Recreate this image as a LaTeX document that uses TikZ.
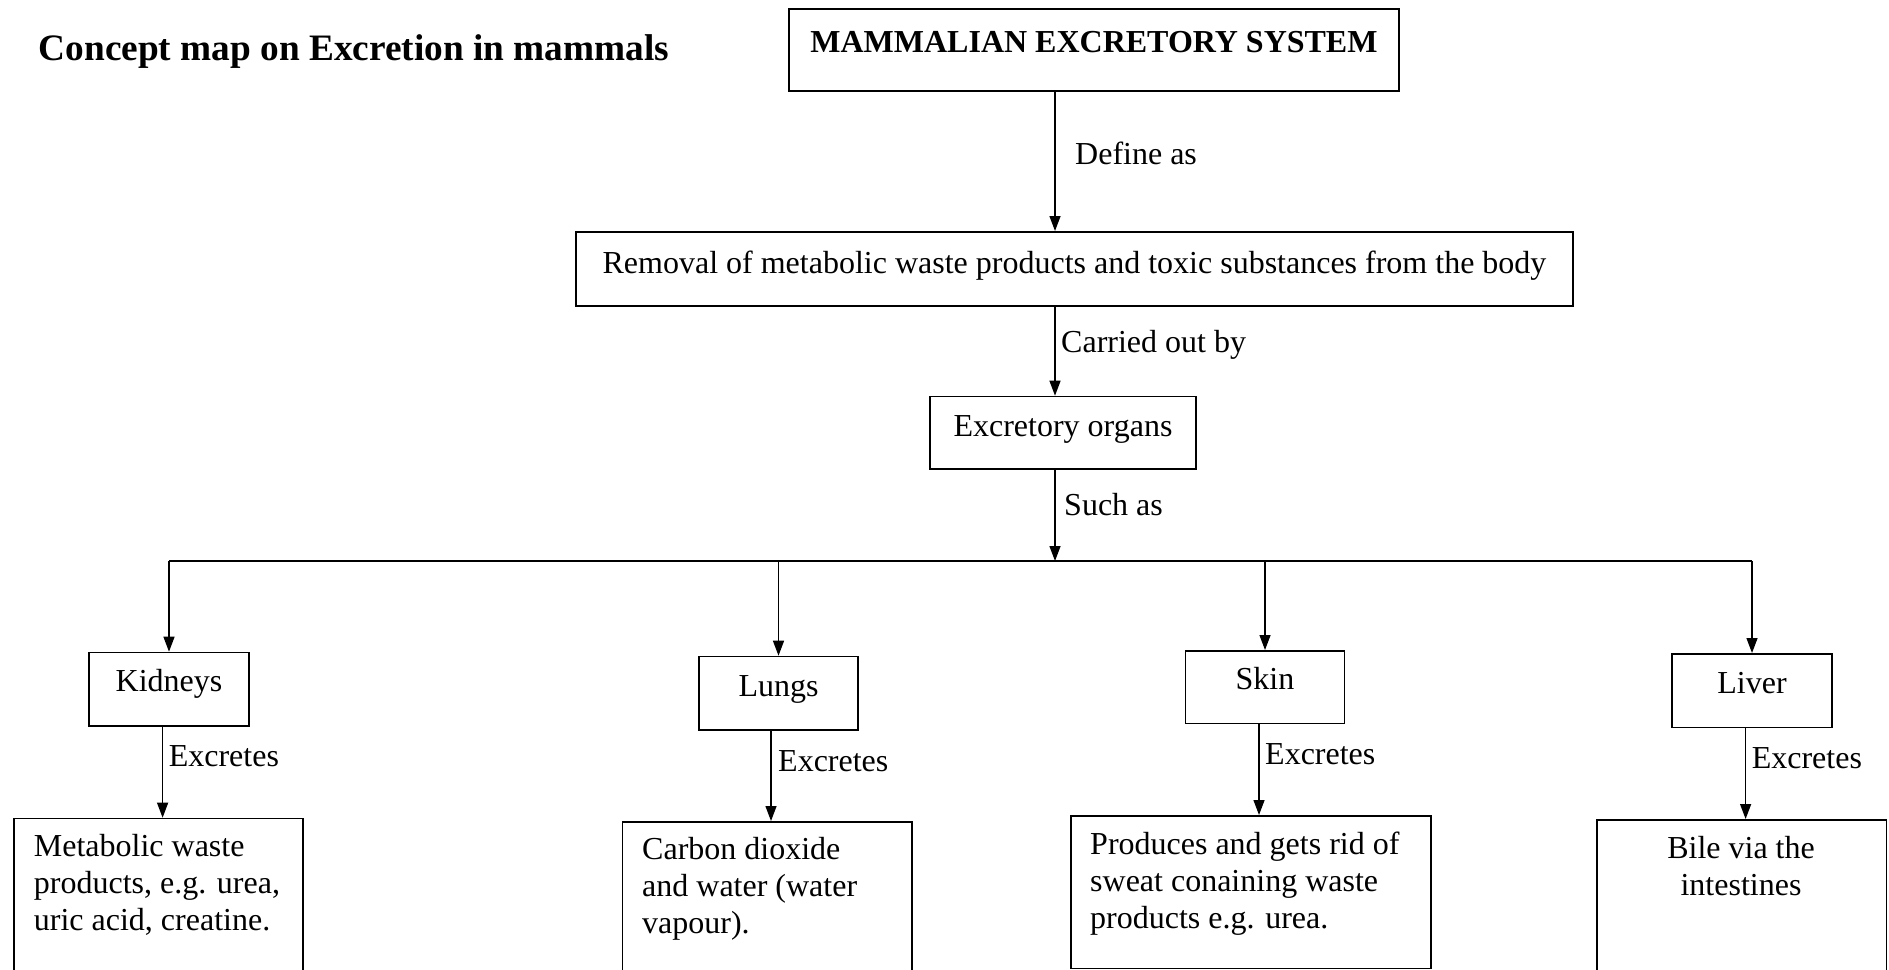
\documentclass[tikz,border=0pt]{standalone}
\usepackage{fontspec}
\setmainfont{Liberation Serif}
\usetikzlibrary{arrows.meta}
\begin{document}
\begin{tikzpicture}[x=1pt,y=-1pt,
  box/.style={draw, line width=1.6pt, inner sep=0pt},
  body/.style={font=\fontsize{32}{37}\selectfont},
  bodybf/.style={font=\bfseries\fontsize{32}{37}\selectfont},
  link/.style={line width=1.3pt, -{Triangle[length=15pt,width=11pt]}},
  lbl/.style={body, anchor=base west, inner sep=0pt},
  para/.style={body, anchor=north west, inner sep=0pt, align=left},
]
\useasboundingbox (0,0) rectangle (1889,969);
\clip (0,0) rectangle (1889,969);
\fill[white] (0,0) rectangle (1889,969);

% title
\node[anchor=base west, inner sep=0pt, font=\bfseries\fontsize{37.3}{43}\selectfont]
  (title) at (38.5,60) {Concept map on Excretion in mammals};

% main chain
\node[box, bodybf, minimum width=610pt, text height=43.3pt, text depth=38.3pt, anchor=north]
  (mes) at (1094,8.4) {MAMMALIAN EXCRETORY SYSTEM};
\node[box, body, minimum width=997pt, text height=42pt, text depth=32pt, anchor=north]
  (rem) at (1074.5,231) {Removal of metabolic waste products and toxic substances from the body};
\node[box, body, minimum width=266pt, text height=40.3pt, text depth=32pt, anchor=north]
  (org) at (1063,395.7) {Excretory organs};

\coordinate (spine) at (1055,0);
\coordinate (bar) at (1055,561);

\draw[link] (spine |- mes.south) -- (spine |- rem.north);
\node[lbl] (l1) at (1075,164) {Define as};
\draw[link] (spine |- rem.south) -- (spine |- org.north);
\node[lbl] (l2) at (1061,352.7) {Carried out by};
\draw[link] (spine |- org.south) -- (bar);
\node[lbl] (l3) at (1064,515) {Such as};

% organs
\node[box, body, minimum width=160pt, text height=39.3pt, text depth=34pt, anchor=north]
  (kid) at (169,651.7) {Kidneys};
\node[box, body, minimum width=159pt, text height=40.3pt, text depth=33pt, anchor=north]
  (lun) at (778.5,655.7) {Lungs};
\node[box, body, minimum width=159pt, text height=39pt, text depth=33.7pt, anchor=north]
  (ski) at (1265,650) {Skin};
\node[box, body, minimum width=160pt, text height=40pt, text depth=33.7pt, anchor=north]
  (liv) at (1752,653) {Liver};

\draw[line width=2pt] (kid.north |- bar) -- (liv.north |- bar);
\foreach \o in {kid,lun,ski,liv}
  \draw[link] (\o.north |- bar) -- (\o.north);

% products
\node[box, minimum width=289pt, minimum height=220pt, anchor=north west]
  (kres) at (13,817.7) {};
\node[box, minimum width=289.4pt, minimum height=220pt, anchor=north west]
  (lres) at (621.6,821) {};
\node[box, minimum width=360pt, minimum height=152.7pt, anchor=north west]
  (sres) at (1070,815) {};
\node[box, minimum width=289.5pt, minimum height=220pt, anchor=north west]
  (vres) at (1596,819) {};

\node[para] (kt) at (33.7,834) {Metabolic waste\\products, e.g. urea,\\uric acid, creatine.};
\node[para] (lt) at (642,837) {Carbon dioxide\\and water (water\\vapour).};
\node[para] (st) at (1090,832) {Produces and gets rid of\\sweat conaining waste\\products e.g. urea.};
\node[para, anchor=north, align=center] (vt) at (1741,836) {Bile via the\\intestines};

% excretes links
\draw[link] ([xshift=-6.4pt]kid.south) -- ([xshift=-6.4pt]kid.south |- kres.north);
\node[lbl] (e1) at (168.6,766) {Excretes};
\draw[link] ([xshift=-7.5pt]lun.south) -- ([xshift=-7.5pt]lun.south |- lres.north);
\node[lbl] (e2) at (778,771) {Excretes};
\draw[link] ([xshift=-6pt]ski.south) -- ([xshift=-6pt]ski.south |- sres.north);
\node[lbl] (e3) at (1265,764) {Excretes};
\draw[link] ([xshift=-6.4pt]liv.south) -- ([xshift=-6.4pt]liv.south |- vres.north);
\node[lbl] (e4) at (1751.6,768) {Excretes};
\end{tikzpicture}
\end{document}
